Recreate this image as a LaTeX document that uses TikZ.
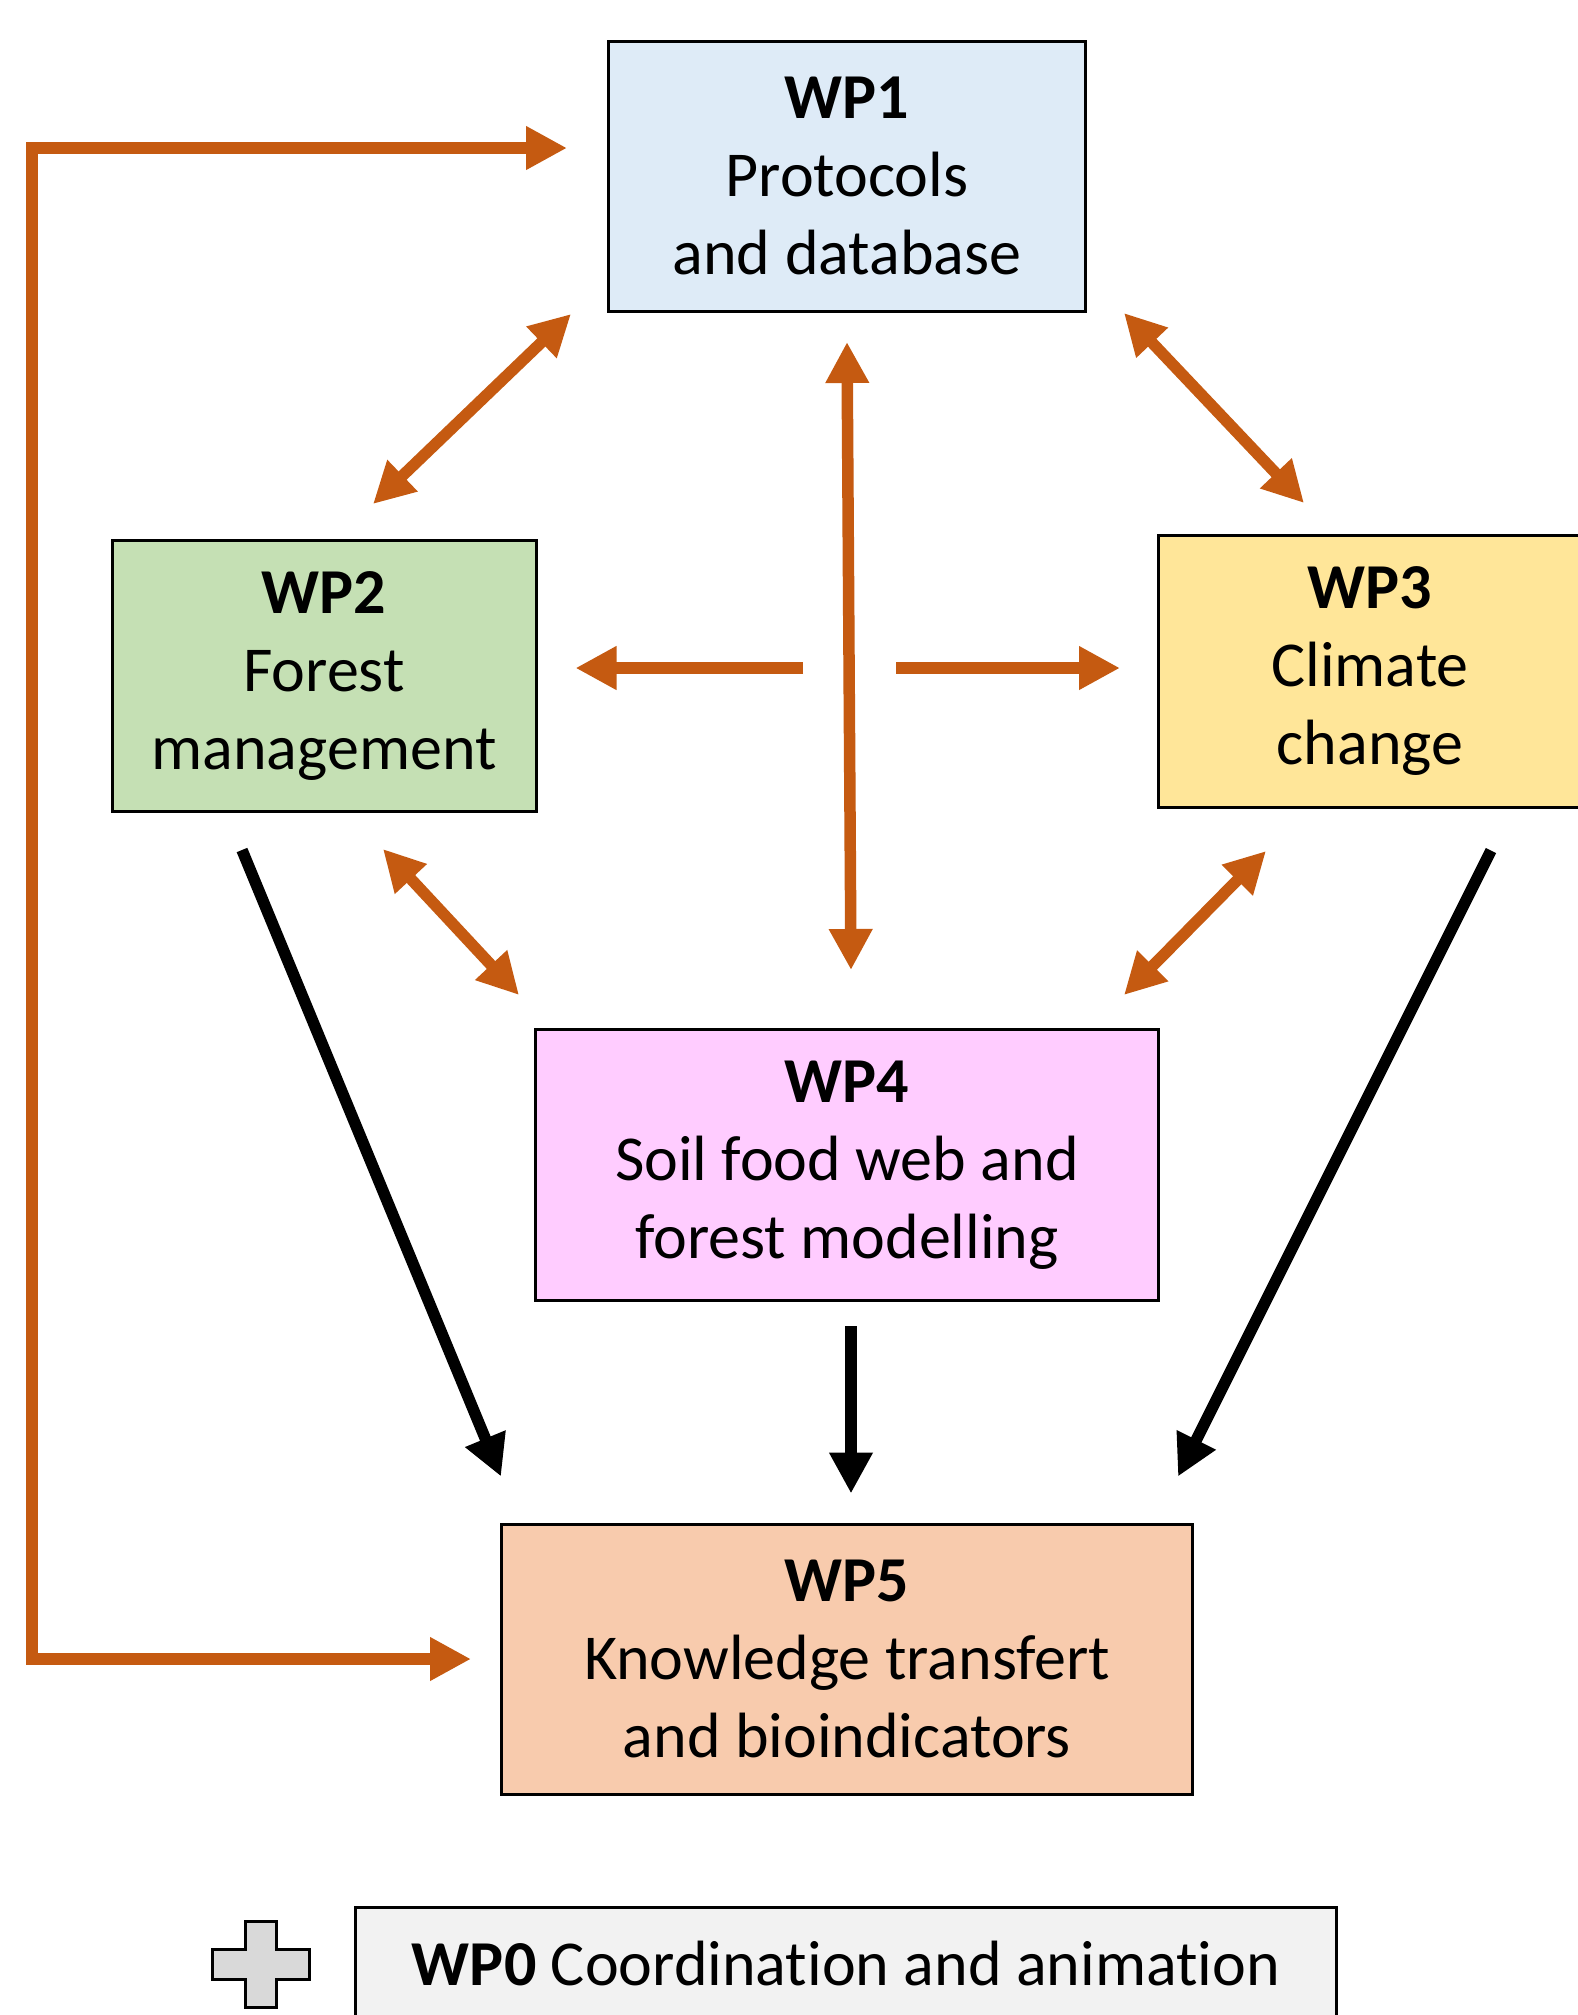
\documentclass[tikz,border=0pt]{standalone}
\usepackage{fontspec}
\setmainfont{Carlito}[Ligatures=NoCommon]
\usetikzlibrary{arrows.meta}
\definecolor{linkOrange}{HTML}{C55A11}
\definecolor{protocolsBlue}{HTML}{DEEBF7}
\definecolor{forestGreen}{HTML}{C5E0B4}
\definecolor{climateYellow}{HTML}{FFE699}
\definecolor{soilPink}{HTML}{FFCCFF}
\definecolor{knowledgePeach}{HTML}{F8CBAD}
\definecolor{coordGrey}{HTML}{F2F2F2}
\definecolor{plusGrey}{HTML}{D9D9D9}

\begin{document}
\begin{tikzpicture}[
  x=0.5pt,
  y=-0.5pt,
  wp box/.style={
    draw=black,
    line width=1.5pt,
    align=center,
    inner sep=0pt,
    font=\fontsize{32}{39}\selectfont,
  },
  link/.style={
    draw=linkOrange,
    line width=5.75pt,
    {Triangle[length=20.5pt,width=20.5pt]}-{Triangle[length=20.5pt,width=20.5pt]},
  },
  link to/.style={
    draw=linkOrange,
    line width=5.75pt,
    -{Triangle[length=20.5pt,width=20.5pt]},
  },
  flow/.style={
    draw=black,
    line width=5.75pt,
    -{Triangle[length=20.5pt,width=20.5pt]},
  },
]
\useasboundingbox (0,0) rectangle (1578,2015);
% work packages
\node[wp box,fill=protocolsBlue,minimum width=238.5pt,minimum height=135pt] (WP1) at (847,176)
  {\textbf{WP1}\\Protocols\\and database};
\node[wp box,fill=forestGreen,minimum width=212pt,minimum height=135.5pt] (WP2) at (324,676)
  {\textbf{WP2}\\Forest\\management};
\node[wp box,fill=climateYellow,minimum width=211.5pt,minimum height=136pt] (WP3) at (1370,671)
  {\textbf{WP3}\\Climate\\change};
\node[wp box,fill=soilPink,minimum width=311.5pt,minimum height=135.5pt] (WP4) at (847,1165)
  {\textbf{WP4}\\Soil food web and\\forest modelling};
\node[wp box,fill=knowledgePeach,minimum width=345.5pt,minimum height=135pt] (WP5) at (847,1659)
  {\textbf{WP5}\\Knowledge transfert\\and bioindicators};
\node[wp box,fill=coordGrey,minimum width=490.5pt,minimum height=56pt] (WP0) at (846,1963)
  {\textbf{WP0} Coordination and animation};
% plus sign
\draw[line width=1.5pt,fill=plusGrey]
  (245,1921) -- (276,1921) -- (276,1949) -- (309,1949) -- (309,1979) -- (276,1979)
  -- (276,2007) -- (245,2007) -- (245,1979) -- (212,1979) -- (212,1949) -- (245,1949) -- cycle;
% link ends
\coordinate (WP1-WP2a) at (571,314);
\coordinate (WP1-WP2b) at (373,504);
\coordinate (WP1-WP3a) at (1124,313);
\coordinate (WP1-WP3b) at (1304,503);
\coordinate (WP1-WP4a) at (847,342);
\coordinate (WP1-WP4b) at (851,970);
\coordinate (WP2-WP4a) at (383,849);
\coordinate (WP2-WP4b) at (519,995);
\coordinate (WP3-WP4a) at (1266,851);
\coordinate (WP3-WP4b) at (1124,995);
\coordinate (toWP2) at (803,668);
\coordinate (toWP3) at (896,668);
\coordinate (loopTop) at (32,148);
\coordinate (loopBottom) at (32,1659);
\foreach \a/\b in {WP1-WP2a/WP1-WP2b,WP1-WP3a/WP1-WP3b,WP1-WP4a/WP1-WP4b,WP2-WP4a/WP2-WP4b,WP3-WP4a/WP3-WP4b}
  \draw[link] (\a) -- (\b);
\draw[link to] (toWP2) -- ([xshift=19pt]WP2.east |- toWP2);
\draw[link to] (toWP3) -- ([xshift=-18.5pt]WP3.west |- toWP3);
\draw[link,line join=miter] ([xshift=-20pt]WP1.west |- loopTop) -- (loopTop) -- (loopBottom)
  -- ([xshift=-14.5pt]WP5.west);
% outputs
\draw[flow] ([xshift=-41pt,yshift=-18.5pt]WP2.south) -- ([xshift=-173pt,yshift=23pt]WP5.north);
\draw[flow] ([xshift=2pt,yshift=-12pt]WP4.south) -- ([xshift=2pt,yshift=14.5pt]WP5.north);
\draw[flow] ([xshift=60.5pt,yshift=-21pt]WP3.south) -- ([xshift=165.5pt,yshift=23pt]WP5.north);
\end{tikzpicture}
\end{document}
